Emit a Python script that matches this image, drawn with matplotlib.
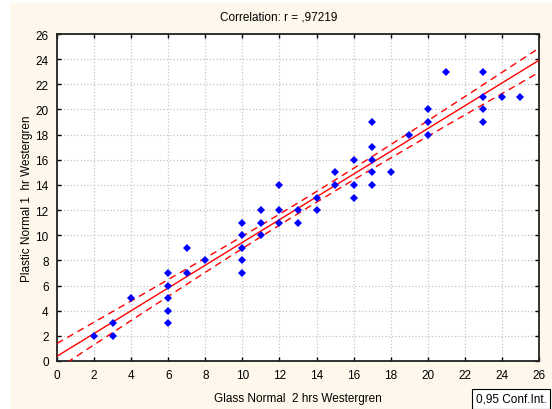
import numpy as np
import matplotlib.pyplot as plt
from matplotlib.patches import Rectangle

plt.rcParams['font.family'] = ['Liberation Sans', 'DejaVu Sans']

# Paired ESR readings (mm/hr)
glass = [2, 3, 3, 4, 6, 6, 6, 6, 6, 7, 7, 8, 10, 10, 10, 10, 10, 11, 11, 11,
         12, 12, 12, 13, 13, 14, 14, 15, 15, 16, 16, 16, 17, 17, 17, 17, 17,
         18, 19, 20, 20, 20, 21, 23, 23, 23, 23, 24, 25]
plastic = [2, 3, 2, 5, 7, 6, 5, 4, 3, 9, 7, 8, 11, 10, 9, 8, 7, 12, 11, 10,
           14, 12, 11, 12, 11, 13, 12, 15, 14, 16, 14, 13, 19, 17, 16, 15, 14,
           15, 18, 20, 19, 18, 23, 23, 21, 20, 19, 21, 21]
ticks = list(range(0, 27, 2))
title = 'Correlation: r = ,97219'

x = np.array(glass, dtype=float)
y = np.array(plastic, dtype=float)

# least squares fit with 95% confidence band for the mean
slope, icpt = np.polyfit(x, y, 1)
n = len(x)
resid = y - (icpt + slope * x)
s = np.sqrt(np.sum(resid ** 2) / (n - 2))
sxx = np.sum((x - x.mean()) ** 2)
t_crit = 2.012
xs = np.linspace(0, 26, 200)
fit = icpt + slope * xs
half = t_crit * s * np.sqrt(1 / n + (xs - x.mean()) ** 2 / sxx)

fig = plt.figure(figsize=(5.52, 4.10), dpi=100)
fig.patch.set_facecolor('white')
fig.patches.append(Rectangle((10 / 552, 0), 1, 1 - 4 / 410, transform=fig.transFigure,
                             facecolor='#fef8ec', edgecolor='none', zorder=-10))

ax = fig.add_axes([57 / 552, 1 - 362 / 410, (539 - 57) / 552, (362 - 35) / 410])
ax.set_facecolor('white')

ax.plot(xs, fit, color='red', lw=1.0, zorder=3)
ax.plot(xs, fit + half, color='red', lw=1.0, ls=(0, (5, 3.5)), zorder=3)
ax.plot(xs, fit - half, color='red', lw=1.0, ls=(0, (5, 3.5)), zorder=3)
ax.plot(x, y, 'D', color='#0000ff', markersize=3.6, markeredgewidth=0, zorder=4)

ax.set_xlim(0, 26)
ax.set_ylim(0, 26)
ax.set_xticks(ticks)
ax.set_yticks(ticks)
ax.grid(True, color='#c4c4c4', ls=':', lw=0.9)
ax.tick_params(direction='in', length=3, width=1, top=True, right=True,
               labelsize=8.5, pad=6, colors='black')
for sp in ax.spines.values():
    sp.set_linewidth(1.3)
    sp.set_color('#222222')

ax.set_xlabel('Glass Normal  2 hrs Westergren', fontsize=8.5, labelpad=8)
ax.set_ylabel('Plastic Normal 1  hr Westergren', fontsize=8.5, labelpad=1.5)
fig.text(279 / 552, 1 - 18 / 410, title, ha='center', va='center', fontsize=8.5)

fig.text(511 / 552, 1 - 400 / 410, '0,95 Conf.Int.', ha='center', va='center',
         fontsize=8.5,
         bbox=dict(boxstyle='square,pad=0.3', facecolor='white', edgecolor='black', lw=0.8))

fig.savefig('out.png', dpi=100, facecolor=fig.get_facecolor())
